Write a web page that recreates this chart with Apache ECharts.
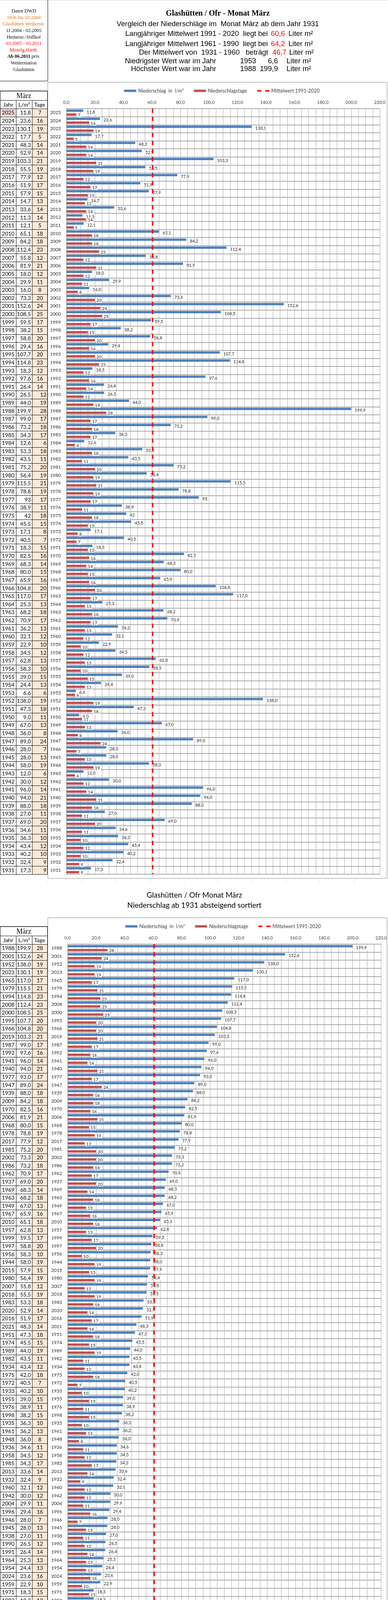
<!DOCTYPE html>
<html>
<head>
<meta charset="utf-8">
<title>Glashütten / Ofr - Monat März</title>
<script src="https://cdn.jsdelivr.net/npm/echarts@6.0.0/dist/echarts.min.js"></script>
<style>
html,body{margin:0;padding:0;background:#fff;}
#chart{width:994px;height:4397px;}
</style>
</head>
<body>
<div id="chart"></div>
<script>
// ---------------- DATA ----------------
const years = [2025,2024,2023,2022,2021,2020,2019,2018,2017,2016,
  2015,2014,2013,2012,2011,2010,2009,2008,2007,2006,
  2005,2004,2003,2002,2001,2000,1999,1998,1997,1996,
  1995,1994,1993,1992,1991,1990,1989,1988,1987,1986,
  1985,1984,1983,1982,1981,1980,1979,1978,1977,1976,
  1975,1974,1973,1972,1971,1970,1969,1968,1967,1966,
  1965,1964,1963,1962,1961,1960,1959,1958,1957,1956,
  1955,1954,1953,1952,1951,1950,1949,1948,1947,1946,
  1945,1944,1943,1942,1941,1940,1939,1938,1937,1936,
  1935,1934,1933,1932,1931];

const precipitation = [11.8,23.6,130.1,17.7,48.3,52.9,103.3,55.5,77.9,51.9,
  57.9,14.7,33.6,11.3,12.1,65.1,84.2,112.4,55.8,81.9,
  18.0,29.9,16.0,73.3,152.6,108.5,59.5,38.2,58.8,29.4,
  107.7,114.8,18.3,97.6,26.4,26.5,44.0,199.9,99.0,73.2,
  34.3,12.6,53.3,43.5,75.2,56.4,115.5,78.8,93.0,38.9,
  42.0,45.5,17.1,40.5,18.3,82.5,68.3,80.0,65.9,104.8,
  117.0,25.3,68.2,70.9,36.2,32.1,22.9,34.5,62.8,58.3,
  39.0,24.4,6.6,138.0,47.3,9.0,67.0,36.0,89.0,28.0,
  28.0,58.0,12.0,30.0,96.0,94.0,88.0,27.0,69.0,34.6,
  36.3,43.4,40.2,32.4,17.3];

const rainDays = [7,16,19,5,14,14,21,19,12,17,
  15,13,14,14,5,18,18,23,12,21,
  12,11,8,20,24,25,17,15,20,16,
  20,23,12,16,14,12,19,28,17,18,
  17,6,18,11,20,19,21,19,17,11,
  18,15,8,7,15,16,14,15,16,20,
  17,13,18,17,13,12,10,12,13,10,
  15,13,6,19,18,11,13,8,24,7,
  13,19,6,12,14,21,18,11,20,11,
  10,12,10,9,9];

// order of the second (sorted) chart, as shown
const sortedYears = [1988,2001,1952,2023,1965,1979,1994,2008,2000,1995,
  1966,2019,1987,1992,1941,1940,1977,1947,1939,2009,
  1970,2006,1968,1978,2017,1981,2002,1986,1962,1937,
  1969,1963,1949,1967,2010,1957,1999,1997,1956,1944,
  2015,1980,2007,2018,1983,2020,2016,2021,1951,1974,
  1989,1982,1934,1975,1972,1933,1955,1976,1998,1935,
  1961,1948,1936,1958,1985,2013,1932,1960,1942,2004,
  1996,1946,1945,1938,1990,1991,1964,1954,2024,1959,
  1971,1993,2005,2022,1931,1973,2003,2014,1984,2011,
  1943,2025,2012,1950,1953];

const integerLabelYears = [1977, 1975]; // shown without decimals in the first chart
const xTicks = [0,20,40,60,80,100,120,140,160,180,200,220];
const mean1991to2020 = 60.6;
const mean1961to1990 = 64.2;
const mean1931to1960 = 46.7;
const lowest = {year: 1953, value: 6.6};
const highest = {year: 1988, value: 199.9};

const seriesNames = ['Niederschlag  in  l/m²', 'Niederschlagstage', 'Mittelwert 1991-2020'];

// ---------------- HELPERS ----------------
const fmt1 = v => v.toFixed(1).replace('.', ',');
const SANS = 'Lato, "Open Sans", sans-serif';
const ARIAL = '"Liberation Sans", Arial, sans-serif';
const SERIF = '"Liberation Serif", "Times New Roman", serif';

const sortedPrecip = sortedYears.map(y => precipitation[years.indexOf(y)]);
const sortedDays = sortedYears.map(y => rainDays[years.indexOf(y)]);

const G1 = {left: 170, top: 278, width: 803, height: 1960};
const G2 = {left: 173, top: 2417, width: 804, height: 1958};

const gfx = [];
function txt(x, y, text, o) {
  o = o || {};
  const style = {text: text, fill: o.fill || '#000', font: o.font || ('14px ' + SANS),
    align: o.align || 'left', verticalAlign: 'middle'};
  if (o.rich) style.rich = o.rich;
  gfx.push({type: 'text', x: x, y: y, silent: true, z: 20, style: style});
}
function ln(x1, y1, x2, y2, stroke, w) {
  gfx.push({type: 'line', silent: true, z: 20, shape: {x1: x1, y1: y1, x2: x2, y2: y2},
    style: {stroke: stroke || '#000', lineWidth: w || 1}});
}
function rc(x, y, w, h, fill, stroke, lw) {
  gfx.push({type: 'rect', silent: true, z: stroke ? 1 : 10, shape: {x: x, y: y, width: w, height: h},
    style: {fill: fill || 'transparent', stroke: stroke || null, lineWidth: lw || 1}});
}

// ---------------- HEADER ----------------
ln(0, 0.5, 994, 0.5, '#d0d0d0', 1);
ln(122.5, 0, 122.5, 207, '#000', 1);
ln(0, 207.5, 122.5, 207.5, '#000', 1);
const panel = [
  ['Daten DWD', '#000'],
  ['1936 bis 10.2004', '#E46C0A'],
  ['Glashütten Weiherstr.', '#E46C0A'],
  ['11.2004 - 02.2005', '#000'],
  ['Heinersr.-Vollhof', '#000'],
  ['03.2005 - 05.2011', '#FF0000'],
  ['Mistelg.Hardt.', '#FF0000'],
  ['{b|Ab 06.2011} priv.', '#000'],
  ['Wetterstation', '#000'],
  ['Glashütten', '#000']
];
panel.forEach((p, i) => {
  txt(61, 29 + i * 16.6, p[0], {fill: p[1], font: '12.5px ' + SERIF, align: 'center',
    rich: {b: {font: 'bold 12.5px ' + SERIF, fill: '#000'}}});
});

txt(558, 35, 'Glashütten / Ofr - Monat März', {font: 'bold 20px ' + SERIF, align: 'center'});
txt(558, 62, 'Vergleich der Niederschläge im  Monat März ab dem Jahr 1931', {font: '18.5px ' + ARIAL, align: 'center'});
const HF = '18.5px ' + ARIAL;
txt(686, 87, 'Langjähriger Mittelwert 1991 - 2020  liegt bei', {font: HF, align: 'right'});
txt(694, 87, fmt1(mean1991to2020), {font: HF, fill: '#FF0000'});
txt(739, 87, 'Liter m²', {font: HF});
txt(686, 113, 'Langjähriger Mittelwert 1961 - 1990  liegt bei', {font: HF, align: 'right'});
txt(694, 113, fmt1(mean1961to1990), {font: HF, fill: '#FF0000'});
txt(739, 113, 'Liter m²', {font: HF});
txt(687, 135, 'Der Mittelwert von  1931 - 1960   beträgt', {font: HF, align: 'right'});
txt(698, 135, fmt1(mean1931to1960), {font: HF, fill: '#FF0000'});
txt(741, 135, 'Liter m²', {font: HF});
txt(554, 157, 'Niedrigster Wert war im Jahr', {font: HF, align: 'right'});
txt(615, 157, String(lowest.year), {font: HF});
txt(712, 157, fmt1(lowest.value), {font: HF, align: 'right'});
txt(734, 157, 'Liter m²', {font: HF});
txt(554, 177, 'Höchster Wert war im Jahr', {font: HF, align: 'right'});
txt(615, 177, String(highest.year), {font: HF});
txt(712, 177, fmt1(highest.value), {font: HF, align: 'right'});
txt(734, 177, 'Liter m²', {font: HF});

// second section titles
txt(498, 2292, 'Glashütten / Ofr Monat März', {font: '19px ' + SANS, align: 'center'});
txt(498, 2318, 'Niederschlag ab 1931 absteigend sortiert', {font: '19px ' + SANS, align: 'center'});

// chart frames
rc(122.5, 210.5, 869, 2038, null, '#8a8a8a', 1);
rc(122.5, 2349.5, 869, 2038, null, '#8a8a8a', 1);

// faint spreadsheet cell gridlines visible below the charts
const sheetCols = [41.5, 82.5, 122.5, 209.5, 296.5, 384.5, 471.5, 558.5, 645.5, 732.5, 819.5, 907.5];
sheetCols.forEach(x => {
  if (x > 122) ln(x, 2249, x, 2262, '#e3e3e3', 1);
  ln(x, x > 122 ? 4388 : 4376, x, 4397, '#e3e3e3', 1);
});
ln(0, 4387.5, 122, 4387.5, '#e3e3e3', 1);

// ---------------- TABLES ----------------
function drawTable(top, rowH, ys, vals, dys, valFmt, tageAlign) {
  const n = ys.length, bottom = top + n * rowH;
  const X0 = 0.5, X1 = 41.5, X2 = 82.5, X3 = 121.5;
  for (let i = 0; i < n; i++) {
    const y0 = top + i * rowH;
    rc(X2, y0, X3 - X2, rowH, '#FDE9D9');
    if (ys[i] === 2025) rc(X0, y0, X1 - X0, rowH, '#F2DCDB');
  }
  ln(0, top - 45, X3, top - 45, '#000', 1.5);
  ln(0, top - 21, X3, top - 21, '#000', 1);
  for (let i = 0; i <= n; i++) {
    const y = Math.round(top + i * rowH) + 0.5;
    ln(0, y, X3, y, '#000', 1);
  }
  ln(X0, top - 45, X0, bottom, '#000', 1);
  ln(X3, top - 45, X3, bottom, '#000', 1);
  ln(X1, top - 21, X1, bottom, '#000', 1);
  ln(X2, top - 21, X2, bottom, '#000', 1);
  txt(61, top - 32, 'März', {font: '18px ' + SERIF, align: 'center'});
  txt(21, top - 10, 'Jahr', {align: 'center'});
  txt(62, top - 10, 'L/m²', {align: 'center'});
  txt(101.5, top - 10, 'Tage', {align: 'center'});
  for (let i = 0; i < n; i++) {
    const yc = top + (i + 0.5) * rowH + 0.5;
    txt(21, yc, String(ys[i]), {align: 'center'});
    txt(79, yc, valFmt(ys[i], vals[i]), {align: 'right'});
    if (tageAlign(ys[i]) === 'center') txt(102, yc, String(dys[i]), {align: 'center'});
    else txt(119, yc, String(dys[i]), {align: 'right'});
  }
}
const chart1Fmt = (y, v) => integerLabelYears.indexOf(y) >= 0 ? String(Math.round(v)) : fmt1(v);
drawTable(G1.top, G1.height / years.length, years, precipitation, rainDays, chart1Fmt,
  y => (y >= 1991 ? 'center' : 'right'));
drawTable(G2.top, G2.height / sortedYears.length, sortedYears, sortedPrecip, sortedDays,
  (y, v) => fmt1(v), () => 'center');

// ---------------- CHART ----------------
const BLUE = '#4F81BD', RED = '#C0504D';
function xAxisCfg(gi) {
  return {
    gridIndex: gi, type: 'value', position: 'top', min: 0, max: 220, interval: 20,
    axisLine: {show: false}, axisTick: {show: false},
    axisLabel: {margin: 10, fontSize: 11.5, fontFamily: SANS, color: '#404040',
      formatter: v => (xTicks.indexOf(v) >= 0 ? fmt1(v) : '')},
    splitLine: {show: true, lineStyle: {color: '#a6a6a6', width: 1}},
    minorTick: {show: true, splitNumber: 4, length: 0},
    minorSplitLine: {show: true, lineStyle: {color: '#a6a6a6', width: 1}}
  };
}
function yAxisCfg(gi, cats) {
  return {
    gridIndex: gi, type: 'category', inverse: true, data: cats.map(String),
    axisLine: {show: true, lineStyle: {color: '#7f7f7f', width: 1}},
    axisTick: {show: false},
    axisLabel: {interval: 0, margin: 14, fontSize: 12, fontFamily: SANS, color: '#262626'},
    splitLine: {show: true, interval: 0, lineStyle: {color: '#8c8c8c', width: 1.5}}
  };
}
function barSeries(gi, name, data, color, fmt, dist, off) {
  return {
    name: name, type: 'bar', xAxisIndex: gi, yAxisIndex: gi, data: data,
    barWidth: 6, barGap: '67%', itemStyle: {color: color},
    label: {show: true, position: 'right', distance: dist, offset: [0, off], formatter: fmt,
      fontSize: 11, fontFamily: SANS, color: '#1a1a1a', backgroundColor: '#fff', padding: [0, 1, 0, 1]},
    z: 3
  };
}
function meanSeries(gi) {
  return {
    name: seriesNames[2], type: 'line', xAxisIndex: gi, yAxisIndex: gi, data: [],
    symbol: 'none', itemStyle: {color: '#FF0000'}, lineStyle: {color: '#FF0000', type: [9, 12], width: 3.5},
    markLine: {silent: true, symbol: 'none', label: {show: false},
      lineStyle: {color: '#FF0000', type: [11, 9.6], width: 3.5},
      data: [{xAxis: mean1991to2020}]},
    z: 4
  };
}
function legendCfg(top, left) {
  return {
    top: top, left: left, itemWidth: 31, itemHeight: 6, itemGap: 26, selectedMode: false,
    textStyle: {fontSize: 12.5, fontFamily: SANS, color: '#404040'},
    data: [
      {name: seriesNames[0], icon: 'rect'},
      {name: seriesNames[1], icon: 'rect'},
      {name: seriesNames[2], icon: 'path://M0,0H10V4H0Z M20,0H30V4H20Z'}
    ]
  };
}

const option = {
  animation: false,
  backgroundColor: '#fff',
  grid: [
    Object.assign({containLabel: false}, G1),
    Object.assign({containLabel: false}, G2)
  ],
  legend: [legendCfg(221, 313), legendCfg(2360, 316)],
  xAxis: [xAxisCfg(0), xAxisCfg(1)],
  yAxis: [yAxisCfg(0, years), yAxisCfg(1, sortedYears)],
  series: [
    barSeries(0, seriesNames[0], precipitation, BLUE, p => chart1Fmt(years[p.dataIndex], p.value), 8, 4),
    barSeries(0, seriesNames[1], rainDays, RED, p => String(p.value), 3, 2),
    meanSeries(0),
    barSeries(1, seriesNames[0], sortedPrecip, BLUE, p => fmt1(p.value), 8, 4),
    barSeries(1, seriesNames[1], sortedDays, RED, p => String(p.value), 3, 2),
    meanSeries(1)
  ],
  graphic: {elements: gfx}
};

const chart = echarts.init(document.getElementById('chart'), null, {renderer: 'canvas'});
chart.setOption(option);
</script>
</body>
</html>
